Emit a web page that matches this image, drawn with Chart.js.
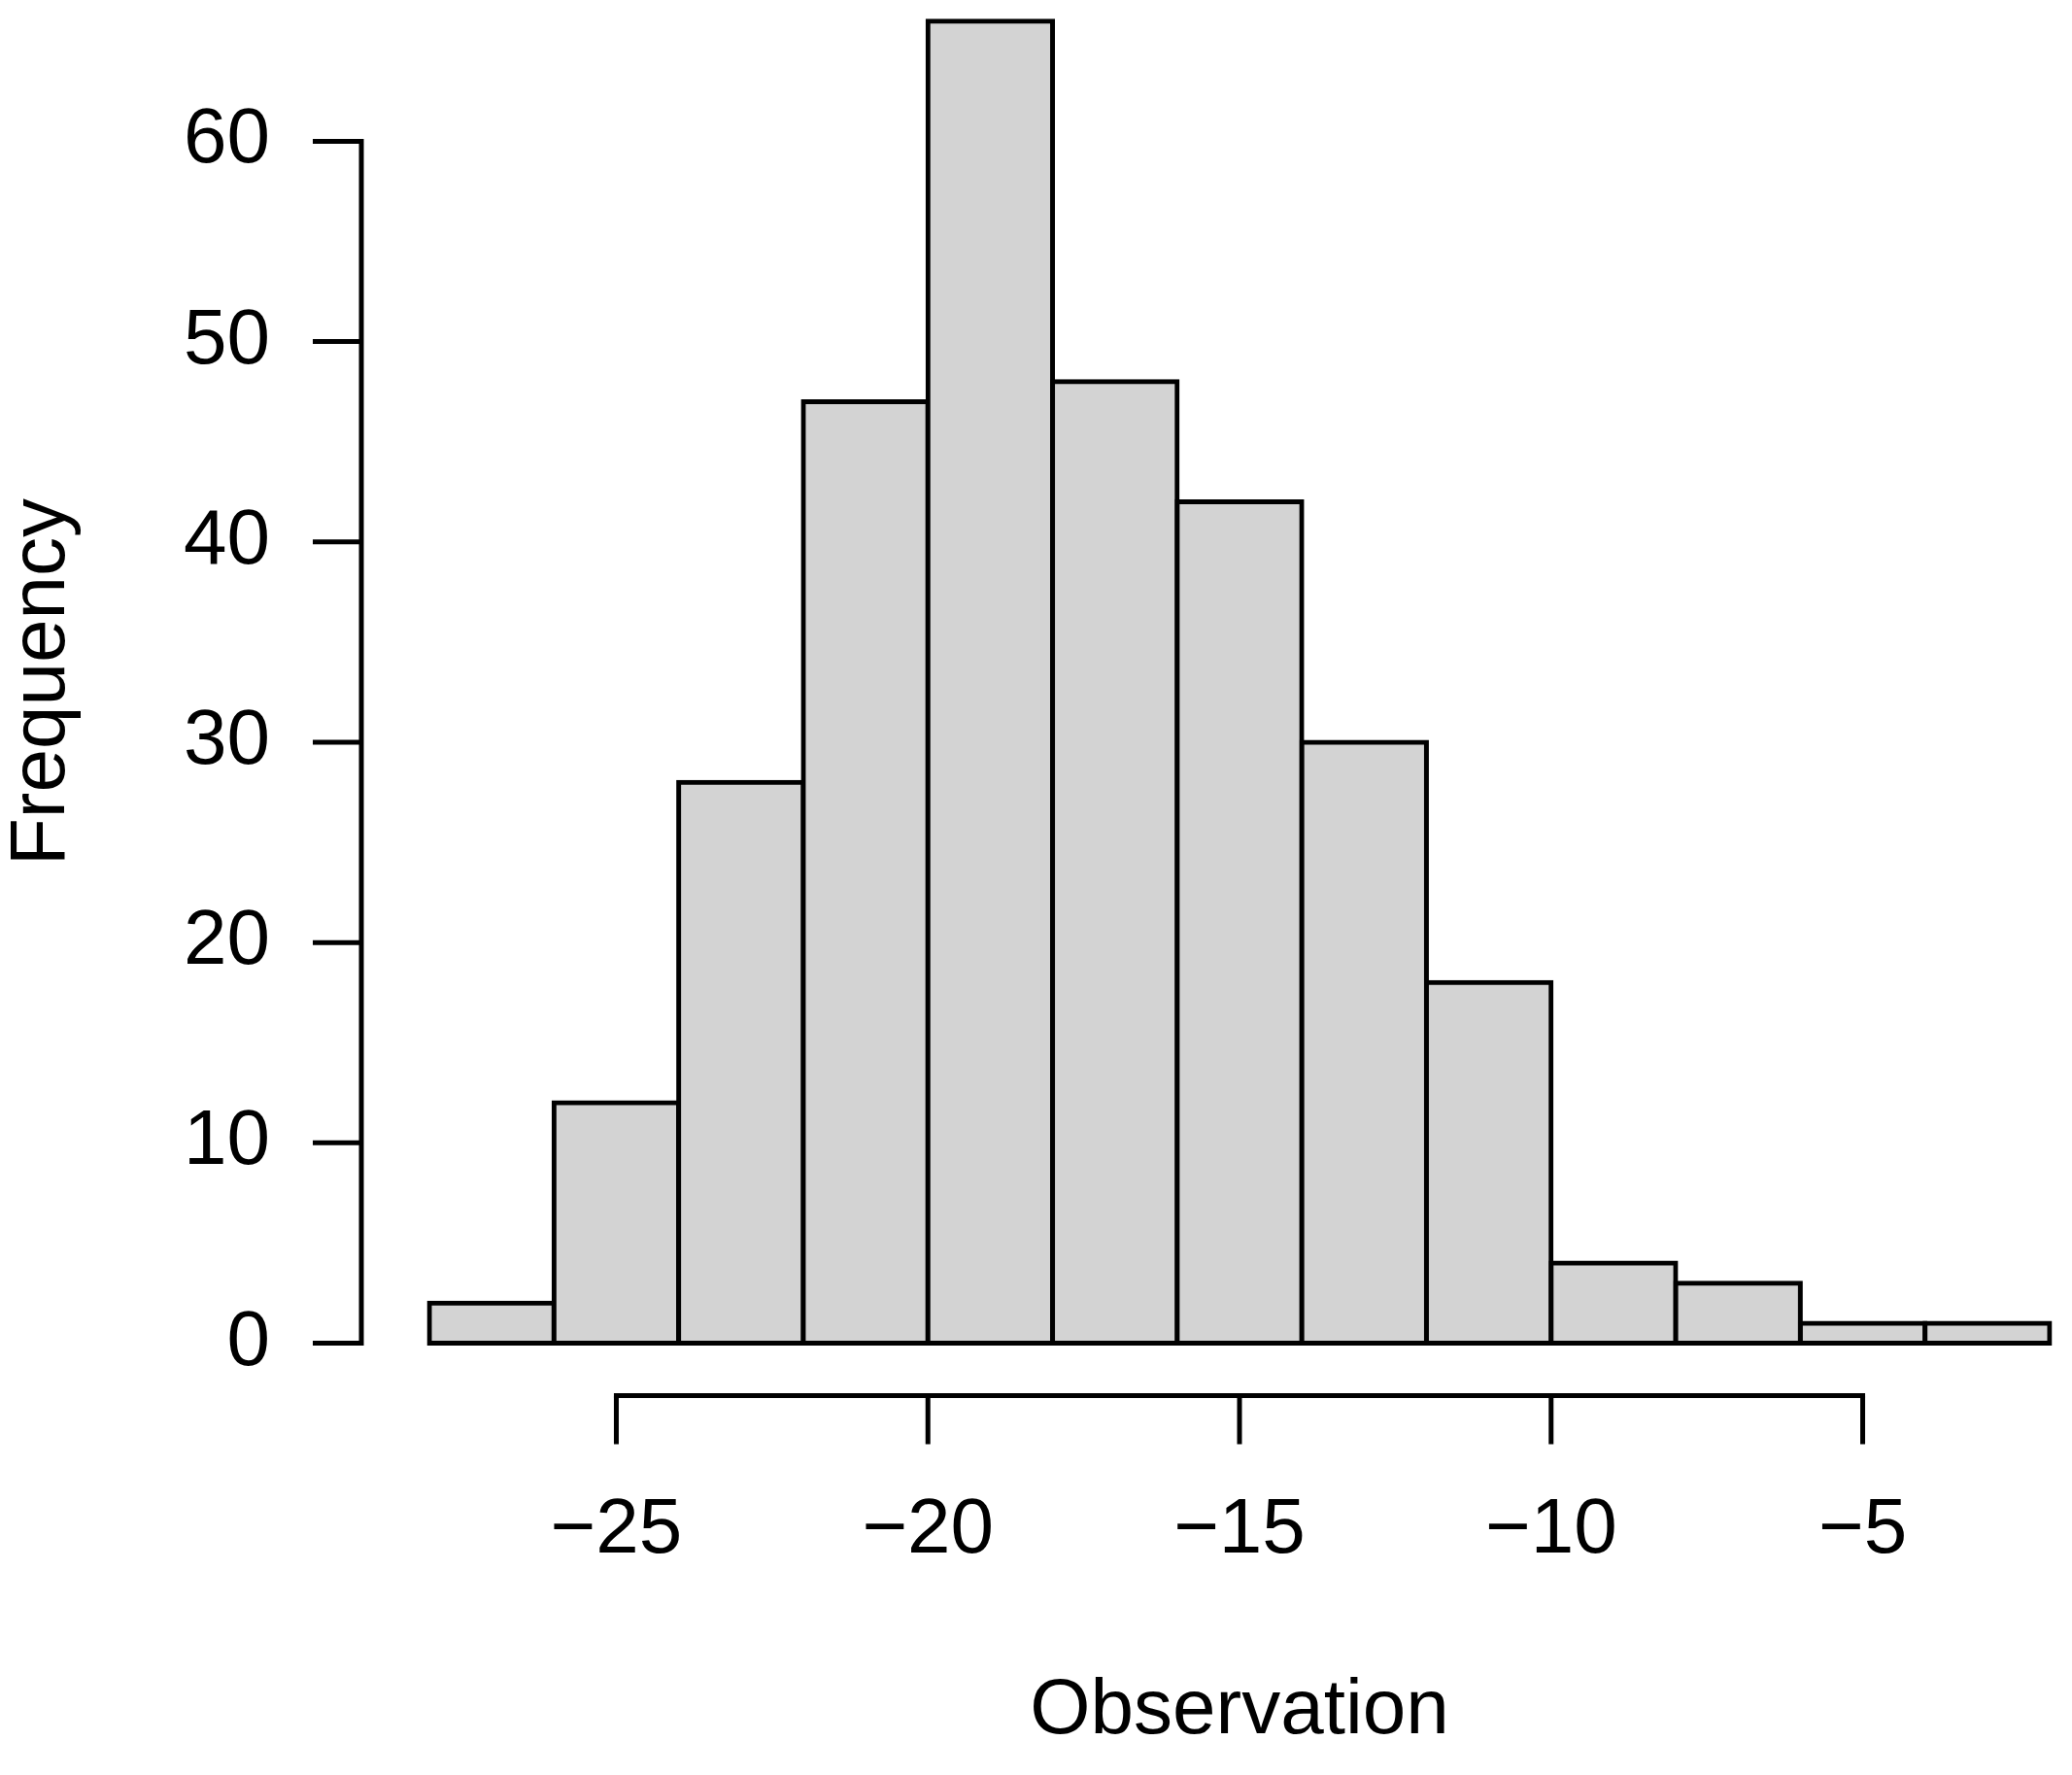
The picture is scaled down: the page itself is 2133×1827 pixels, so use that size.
<!DOCTYPE html>
<html>
<head>
<meta charset="utf-8">
<script src="https://cdn.jsdelivr.net/npm/chart.js@4/dist/chart.umd.min.js"></script>
<style>
  html, body { margin: 0; padding: 0; background: #ffffff; }
  #histChart { display: block; }
</style>
</head>
<body>
<canvas id="histChart" width="2133" height="1827" style="width:2133px;height:1827px"></canvas>
<script>
// histogram data (bin breaks + counts per bin)
const BREAKS = [-28, -26, -24, -22, -20, -18, -16, -14, -12, -10, -8, -6, -4, -2];
const COUNTS = [2, 12, 28, 47, 66, 48, 42, 30, 18, 4, 3, 1, 1];
const X_TICKS = [-25, -20, -15, -10, -5];
const Y_TICKS = [0, 10, 20, 30, 40, 50, 60];
const X_LABEL = 'Observation';
const Y_LABEL = 'Frequency';

const FONT = 'Liberation Sans, Arial, Helvetica, sans-serif';
const INK = '#000000';
const BAR_FILL = '#D3D3D3';
const LINE_W = 5;

// bar centres from the breaks
const histPoints = COUNTS.map((c, i) => ({ x: (BREAKS[i] + BREAKS[i + 1]) / 2, y: c }));

const fmtMinus = v => String(v).replace('-', '\u2212');

// R-style detached axes: line between first/last tick, ticks pointing outward
const rAxes = {
  id: 'rAxes',
  afterDraw(chart) {
    const { ctx, scales: { x, y } } = chart;
    const gap = 54, gapY = 70, tick = 50;
    ctx.save();
    ctx.strokeStyle = INK;
    ctx.lineWidth = LINE_W;

    // x axis
    const ay = chart.chartArea.bottom + gap;
    ctx.lineCap = 'square';
    ctx.beginPath();
    ctx.moveTo(x.getPixelForValue(X_TICKS[0]), ay);
    ctx.lineTo(x.getPixelForValue(X_TICKS[X_TICKS.length - 1]), ay);
    ctx.stroke();
    ctx.lineCap = 'butt';
    X_TICKS.forEach(v => {
      const px = x.getPixelForValue(v);
      ctx.beginPath();
      ctx.moveTo(px, ay);
      ctx.lineTo(px, ay + tick);
      ctx.stroke();
    });

    // y axis
    const ax = chart.chartArea.left - gapY;
    ctx.lineCap = 'square';
    ctx.beginPath();
    ctx.moveTo(ax, y.getPixelForValue(Y_TICKS[0]));
    ctx.lineTo(ax, y.getPixelForValue(Y_TICKS[Y_TICKS.length - 1]));
    ctx.stroke();
    ctx.lineCap = 'butt';
    Y_TICKS.forEach(v => {
      const py = y.getPixelForValue(v);
      ctx.beginPath();
      ctx.moveTo(ax, py);
      ctx.lineTo(ax - tick, py);
      ctx.stroke();
    });
    ctx.restore();
  }
};

new Chart(document.getElementById('histChart').getContext('2d'), {
  type: 'bar',
  data: {
    datasets: [{
      data: histPoints,
      backgroundColor: BAR_FILL,
      borderColor: INK,
      borderWidth: LINE_W,
      borderSkipped: false,
      inflateAmount: LINE_W / 2,
      barPercentage: 1,
      categoryPercentage: 1,
      clip: false
    }]
  },
  plugins: [rAxes],
  options: {
    responsive: false,
    animation: false,
    events: [],
    layout: { padding: { top: 21.7, right: 23, bottom: 0, left: 0 } },
    plugins: {
      legend: { display: false },
      tooltip: { enabled: false }
    },
    scales: {
      x: {
        type: 'linear',
        min: BREAKS[0],
        max: BREAKS[BREAKS.length - 1],
        offset: false,
        afterBuildTicks: s => { s.ticks = X_TICKS.map(v => ({ value: v })); },
        afterFit: s => {
          s.height = 444.5;
          s.paddingLeft = 0;
          s.paddingRight = 0;
        },
        grid: { display: false, drawTicks: false },
        border: { display: false },
        ticks: {
          color: INK,
          font: { family: FONT, size: 80 },
          padding: 145,
          maxRotation: 0,
          autoSkip: false,
          callback: v => fmtMinus(v)
        },
        title: {
          display: true,
          text: X_LABEL,
          color: INK,
          font: { family: FONT, size: 80, lineHeight: 1 },
          padding: { top: 0, bottom: 25 }
        }
      },
      y: {
        min: 0,
        max: Math.max(...COUNTS),
        afterBuildTicks: s => { s.ticks = Y_TICKS.map(v => ({ value: v })); },
        afterFit: s => {
          s.width = 442;
          // tick padding is horizontal here, don't let it eat the top of the plot
          s.paddingTop = 0;
          s.paddingBottom = 0;
        },
        grid: { display: false, drawTicks: false },
        border: { display: false },
        ticks: {
          color: INK,
          font: { family: FONT, size: 80 },
          padding: 164,
          autoSkip: false,
          callback: v => fmtMinus(v)
        },
        title: {
          display: true,
          text: Y_LABEL,
          color: INK,
          font: { family: FONT, size: 80, lineHeight: 1 },
          padding: { top: 4, bottom: 0 }
        }
      }
    }
  }
});
</script>
</body>
</html>
